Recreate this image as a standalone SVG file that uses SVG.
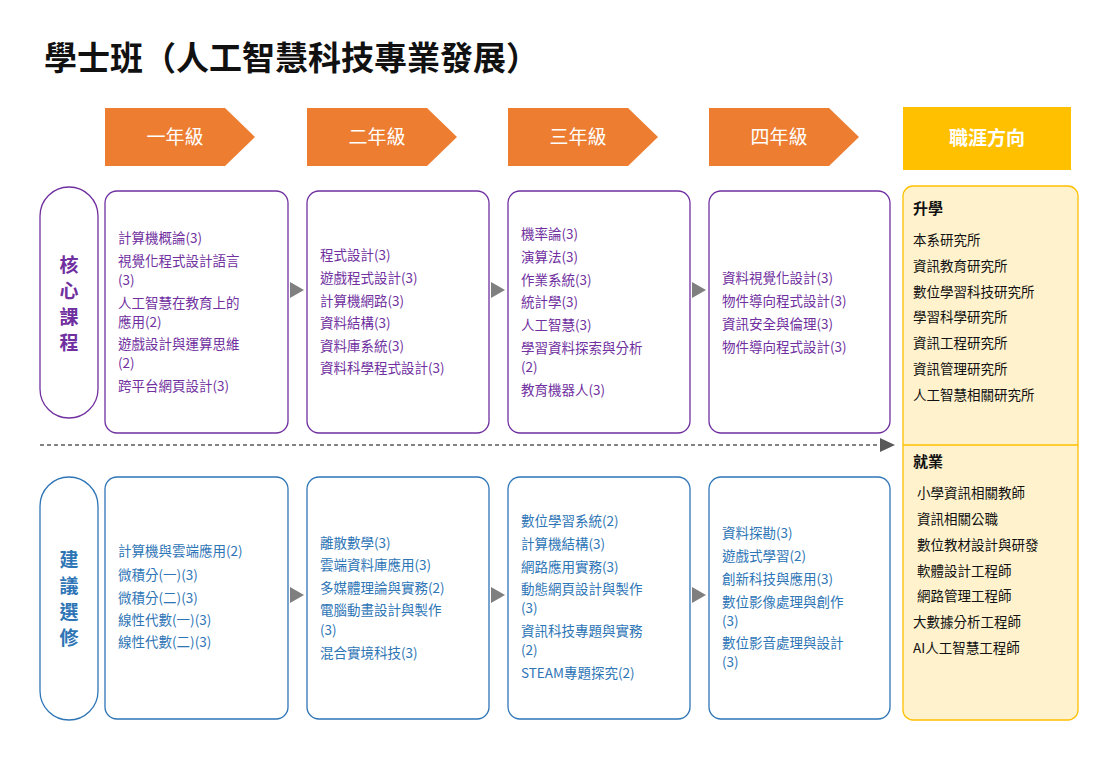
<svg xmlns="http://www.w3.org/2000/svg" width="1100" height="778" viewBox="0 0 1100 778">
<style>
text{font-family:"Noto Sans CJK TC","Noto Sans",sans-serif}
.ttl{font-size:33px;font-weight:bold;fill:#111}
.chev{fill:#ed7d31}
.chevt{font-size:19px;fill:#fff}
.cb{fill:#fff;stroke:#7030a0;stroke-width:1.3}
.eb{fill:#fff;stroke:#2e75b6;stroke-width:1.3}
.ct{font-size:13.5px;fill:#7030a0}
.et{font-size:13.5px;fill:#2e75b6}
.lab{font-size:19px;font-weight:bold}
.car{font-size:13.5px;fill:#111}
.carh{font-size:15px;font-weight:bold;fill:#111}
.tri{fill:#7f7f7f}
</style>
<rect width="1100" height="778" fill="#fff"/>
<text class="ttl" x="44" y="70">學士班（人工智慧科技專業發展）</text>
<g id="year1"><polygon class="chev" points="105,108 225,108 255,137 225,166 105,166"/><text class="chevt" x="175" y="144" text-anchor="middle">一年級</text></g>
<g id="year2"><polygon class="chev" points="307,108 427,108 457,137 427,166 307,166"/><text class="chevt" x="377" y="144" text-anchor="middle">二年級</text></g>
<g id="year3"><polygon class="chev" points="508,108 628,108 658,137 628,166 508,166"/><text class="chevt" x="578" y="144" text-anchor="middle">三年級</text></g>
<g id="year4"><polygon class="chev" points="709,108 829,108 859,137 829,166 709,166"/><text class="chevt" x="779" y="144" text-anchor="middle">四年級</text></g>
<g id="career-head"><rect x="903" y="107" width="168" height="63" fill="#ffc000"/><text x="987" y="145" text-anchor="middle" font-size="19" font-weight="bold" fill="#fff">職涯方向</text></g>
<g id="core-label"><rect x="40" y="187" width="58" height="231" rx="29" fill="#fff" stroke="#7030a0" stroke-width="1.3"/><text class="lab" fill="#7030a0" text-anchor="middle" x="69"><tspan x="69" y="272">核</tspan><tspan x="69" y="298">心</tspan><tspan x="69" y="324">課</tspan><tspan x="69" y="350">程</tspan></text></g>
<g id="elec-label"><rect x="40" y="477" width="58" height="243" rx="29" fill="#fff" stroke="#2e75b6" stroke-width="1.3"/><text class="lab" fill="#2e75b6" text-anchor="middle"><tspan x="69" y="567">建</tspan><tspan x="69" y="593">議</tspan><tspan x="69" y="619">選</tspan><tspan x="69" y="645">修</tspan></text></g>
<g id="core1"><rect class="cb" x="105" y="191" width="183" height="242" rx="12"/><text class="ct"><tspan x="118" y="243">計算機概論(3)</tspan><tspan x="118" y="266">視覺化程式設計語言</tspan><tspan x="118" y="285">(3)</tspan><tspan x="118" y="308">人工智慧在教育上的</tspan><tspan x="118" y="327">應用(2)</tspan><tspan x="118" y="349">遊戲設計與運算思維</tspan><tspan x="118" y="368">(2)</tspan><tspan x="118" y="391">跨平台網頁設計(3)</tspan></text></g>
<g id="core2"><rect class="cb" x="307" y="191" width="182" height="242" rx="12"/><text class="ct"><tspan x="320" y="260">程式設計(3)</tspan><tspan x="320" y="283">遊戲程式設計(3)</tspan><tspan x="320" y="306">計算機網路(3)</tspan><tspan x="320" y="328">資料結構(3)</tspan><tspan x="320" y="351">資料庫系統(3)</tspan><tspan x="320" y="373">資料科學程式設計(3)</tspan></text></g>
<g id="core3"><rect class="cb" x="508" y="191" width="182" height="242" rx="12"/><text class="ct"><tspan x="521" y="239">機率論(3)</tspan><tspan x="521" y="262">演算法(3)</tspan><tspan x="521" y="285">作業系統(3)</tspan><tspan x="521" y="307">統計學(3)</tspan><tspan x="521" y="330">人工智慧(3)</tspan><tspan x="521" y="353">學習資料探索與分析</tspan><tspan x="521" y="372">(2)</tspan><tspan x="521" y="395">教育機器人(3)</tspan></text></g>
<g id="core4"><rect class="cb" x="709" y="191" width="181" height="242" rx="12"/><text class="ct"><tspan x="722" y="283">資料視覺化設計(3)</tspan><tspan x="722" y="306">物件導向程式設計(3)</tspan><tspan x="722" y="329">資訊安全與倫理(3)</tspan><tspan x="722" y="352">物件導向程式設計(3)</tspan></text></g>
<g id="elec1"><rect class="eb" x="105" y="477" width="183" height="242" rx="12"/><text class="et"><tspan x="118" y="556">計算機與雲端應用(2)</tspan><tspan x="118" y="580">微積分(一)(3)</tspan><tspan x="118" y="603">微積分(二)(3)</tspan><tspan x="118" y="625">線性代數(一)(3)</tspan><tspan x="118" y="647">線性代數(二)(3)</tspan></text></g>
<g id="elec2"><rect class="eb" x="307" y="477" width="182" height="242" rx="12"/><text class="et"><tspan x="320" y="548">離散數學(3)</tspan><tspan x="320" y="570">雲端資料庫應用(3)</tspan><tspan x="320" y="593">多媒體理論與實務(2)</tspan><tspan x="320" y="615">電腦動畫設計與製作</tspan><tspan x="320" y="635">(3)</tspan><tspan x="320" y="658">混合實境科技(3)</tspan></text></g>
<g id="elec3"><rect class="eb" x="508" y="477" width="182" height="242" rx="12"/><text class="et"><tspan x="521" y="526">數位學習系統(2)</tspan><tspan x="521" y="549">計算機結構(3)</tspan><tspan x="521" y="572">網路應用實務(3)</tspan><tspan x="521" y="594">動態網頁設計與製作</tspan><tspan x="521" y="613">(3)</tspan><tspan x="521" y="636">資訊科技專題與實務</tspan><tspan x="521" y="655">(2)</tspan><tspan x="521" y="678">STEAM專題探究(2)</tspan></text></g>
<g id="elec4"><rect class="eb" x="709" y="477" width="181" height="242" rx="12"/><text class="et"><tspan x="722" y="538">資料探勘(3)</tspan><tspan x="722" y="561">遊戲式學習(2)</tspan><tspan x="722" y="584">創新科技與應用(3)</tspan><tspan x="722" y="607">數位影像處理與創作</tspan><tspan x="722" y="626">(3)</tspan><tspan x="722" y="648">數位影音處理與設計</tspan><tspan x="722" y="667">(3)</tspan></text></g>
<g id="career"><rect x="903" y="186" width="175" height="534" rx="10" fill="#fff2cc" stroke="#ffc000" stroke-width="1.3"/><line x1="903" y1="445" x2="1078" y2="445" stroke="#ffc000" stroke-width="1.3"/>
<text class="carh" x="913" y="214">升學</text>
<text class="car"><tspan x="913" y="245">本系研究所</tspan><tspan x="913" y="271">資訊教育研究所</tspan><tspan x="913" y="297">數位學習科技研究所</tspan><tspan x="913" y="322">學習科學研究所</tspan><tspan x="913" y="348">資訊工程研究所</tspan><tspan x="913" y="374">資訊管理研究所</tspan><tspan x="913" y="400">人工智慧相關研究所</tspan></text>
<text class="carh" x="913" y="467">就業</text>
<text class="car"><tspan x="917" y="498">小學資訊相關教師</tspan><tspan x="917" y="524">資訊相關公職</tspan><tspan x="917" y="550">數位教材設計與研發</tspan><tspan x="917" y="576">軟體設計工程師</tspan><tspan x="917" y="601">網路管理工程師</tspan><tspan x="913" y="627">大數據分析工程師</tspan><tspan x="913" y="653">AI人工智慧工程師</tspan></text></g>
<g id="connectors">
<polygon class="tri" points="290,282 304,290 290,298"/><polygon class="tri" points="491,282 505,290 491,298"/><polygon class="tri" points="692,282 706,290 692,298"/>
<polygon class="tri" points="290,587 304,595 290,603"/><polygon class="tri" points="491,587 505,595 491,603"/><polygon class="tri" points="692,587 706,595 692,603"/>
<line x1="40" y1="445" x2="882" y2="445" stroke="#595959" stroke-width="1.3" stroke-dasharray="4,3"/><polygon points="880,438 895,445 880,452" fill="#595959"/>
</g>
</svg>
